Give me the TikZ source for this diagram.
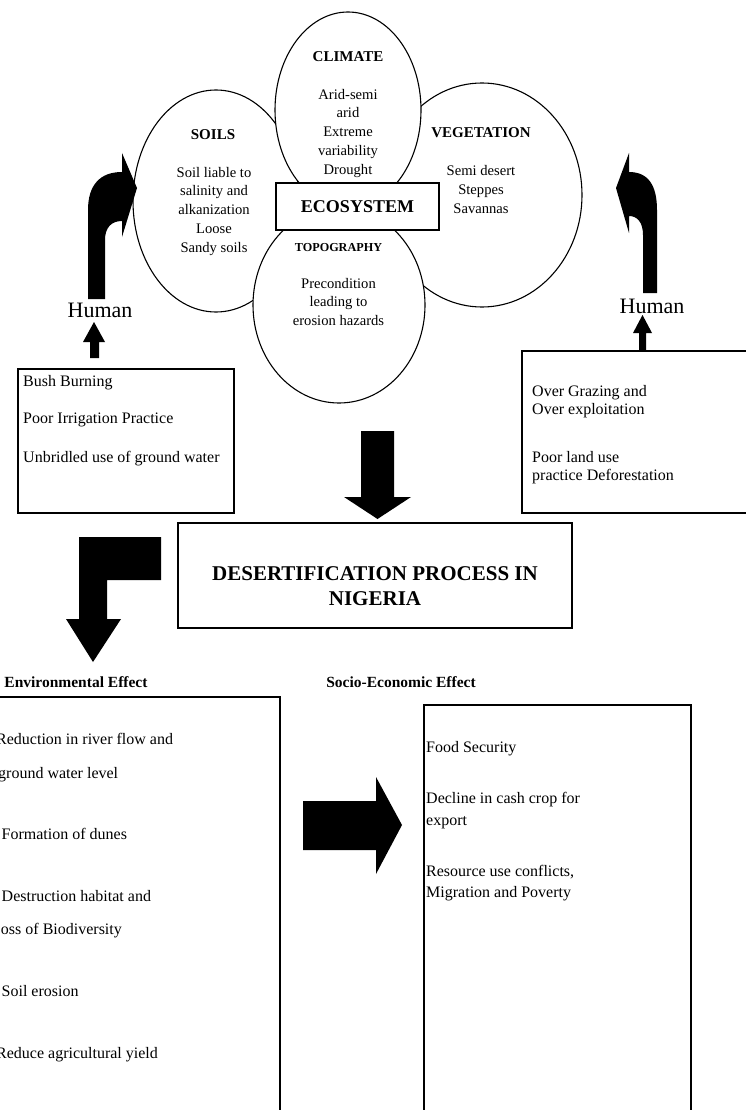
\documentclass[tikz,border=0pt]{standalone}
\usepackage{fontspec}
\setmainfont{Liberation Serif}
\usetikzlibrary{shapes.geometric}
\newcommand\ovaltxtfont{\fontsize{14.6}{18}\selectfont}
\newcommand\ovalheadfont{\fontsize{15}{18}\selectfont\bfseries}
\newcommand\topoheadfont{\fontsize{12.2}{14}\selectfont\bfseries}
\newcommand\ecoheadfont{\fontsize{18}{21}\selectfont\bfseries}
\newcommand\listfont{\fontsize{16}{19}\selectfont}
\newcommand\procfont{\fontsize{21}{25}\selectfont\bfseries}
\newcommand\effectheadfont{\fontsize{15.5}{18}\selectfont\bfseries}
\newcommand\humanlblfont{\fontsize{22}{26}\selectfont}

\begin{document}
\begin{tikzpicture}[x=1pt,y=-1pt,
  oval/.style={ellipse,draw,fill=white,line width=1.1pt,inner sep=0pt},
  frame/.style={rectangle,draw,line width=1.4pt,inner sep=0pt},
  ovaltxt/.style={anchor=base,inner sep=0pt,font=\ovaltxtfont},
  ovalhead/.style={anchor=base,inner sep=0pt,font=\ovalheadfont},
  listitem/.style={anchor=base west,inner sep=0pt,font=\listfont},
  bighead/.style={anchor=base,inner sep=0pt}]
\path[use as bounding box] (0,0) rectangle (746,1110);
\node[oval,minimum width=166,minimum height=222] (soils) at (216,201) {};
\node[oval,minimum width=200,minimum height=224] (vegetation) at (482,195) {};
\node[oval,minimum width=172,minimum height=196] (topography) at (339,305) {};
\node[oval,minimum width=146,minimum height=196] (climate) at (348,110) {};
\node[frame,fill=white,minimum width=163,minimum height=47,font=\ecoheadfont] (ecosystem) at (357.5,206.5) {ECOSYSTEM};
\node[ovalhead] (climateHd) at (348,62) {CLIMATE};
\node[ovaltxt] (climateA) at (348,99.5) {Arid-semi};
\node[ovaltxt] (climateB) at (348,118) {arid};
\node[ovaltxt] (climateC) at (348,137) {Extreme};
\node[ovaltxt] (climateD) at (348,156) {variability};
\node[ovaltxt] (climateE) at (348,175) {Drought};
\node[ovalhead] (soilsHd) at (213,140) {SOILS};
\node[ovaltxt] (soilsA) at (214,177.5) {Soil liable to};
\node[ovaltxt] (soilsB) at (214,196) {salinity and};
\node[ovaltxt] (soilsC) at (214,214.5) {alkanization};
\node[ovaltxt] (soilsD) at (214,233.5) {Loose};
\node[ovaltxt] (soilsE) at (214,252.5) {Sandy soils};
\node[ovalhead] (vegHd) at (481,138) {VEGETATION};
\node[ovaltxt] (vegA) at (481,175.5) {Semi desert};
\node[ovaltxt] (vegB) at (481,194) {Steppes};
\node[ovaltxt] (vegC) at (481,213) {Savannas};
\node[bighead,font=\topoheadfont] (topoHd) at (338.5,251.5) {TOPOGRAPHY};
\node[ovaltxt] (topoA) at (338.5,288) {Precondition};
\node[ovaltxt] (topoB) at (338.5,306.5) {leading to};
\node[ovaltxt] (topoC) at (338.5,325) {erosion hazards};
\fill (88,299) -- (88,210) .. controls (88,185) and (100,172) .. (122,172) -- (122,153) -- (137,188) -- (122,237) -- (122,221) .. controls (111,221) and (105,228) .. (105,240) -- (105,299) -- cycle;
\fill (657,293) -- (657,210) .. controls (657,185) and (648,172) .. (629,172) -- (629,153) -- (616,188) -- (629,233) -- (629,216) .. controls (637,216) and (643,222) .. (643,235) -- (643,293) -- cycle;
\node[bighead,font=\humanlblfont] (humanL) at (100,317) {Human};
\node[bighead,font=\humanlblfont] (humanR) at (652,313) {Human};
\fill (90,358) -- (90,342) -- (83,342) -- (94,322) -- (105,342) -- (99,342) -- (99,358) -- cycle;
\fill (639,351) -- (639,333) -- (633,333) -- (642.5,315) -- (652,333) -- (646,333) -- (646,351) -- cycle;
\node[frame,minimum width=216,minimum height=144] (humanBox) at (126,441) {};
\node[listitem] (bush) at (23,386) {Bush Burning};
\node[listitem] (irrig) at (23,423) {Poor Irrigation Practice};
\node[listitem] (water) at (23,462) {Unbridled use of ground water};
\node[frame,minimum width=228,minimum height=162] (landBox) at (636,432) {};
\node[listitem] (grazeA) at (532,396) {Over Grazing and};
\node[listitem] (grazeB) at (532,414) {Over exploitation};
\node[listitem] (landA) at (532,462) {Poor land use};
\node[listitem] (landB) at (532,480) {practice Deforestation};
\fill (361,431) -- (394,431) -- (394,497) -- (411,497) -- (377.5,519) -- (344,497) -- (361,497) -- cycle;
\node[frame,minimum width=394,minimum height=105] (process) at (375,575.5) {};
\node[bighead,font=\procfont] (processA) at (375,580) {DESERTIFICATION PROCESS IN};
\node[bighead,font=\procfont] (processB) at (375,605) {NIGERIA};
\fill (161,537) -- (79,537) -- (79,619) -- (66,619) -- (93,662) -- (121,619) -- (107,619) -- (107,580) -- (161,580) -- cycle;
\node[bighead,font=\effectheadfont] (envHd) at (76,687) {Environmental Effect};
\node[bighead,font=\effectheadfont] (socHd) at (401,687) {Socio-Economic Effect};
\node[frame,minimum width=285,minimum height=423] (envBox) at (137.5,908.5) {};
\node[listitem] (envA) at (-4,744) {Reduction in river flow and};
\node[listitem] (envB) at (-2,778) {ground water level};
\node[listitem] (envC) at (1.5,839) {Formation of dunes};
\node[listitem] (envD) at (1.5,901) {Destruction habitat and};
\node[listitem] (envE) at (-9,934) {Loss of Biodiversity};
\node[listitem] (envF) at (1.5,996) {Soil erosion};
\node[listitem] (envG) at (-4,1058) {Reduce agricultural yield};
\fill (303,801) -- (376,801) -- (376,777) -- (402,825) -- (376,874) -- (376,850) -- (303,850) -- cycle;
\node[frame,minimum width=267,minimum height=415] (socBox) at (557.5,912.5) {};
\node[listitem] (socA) at (426,752) {Food Security};
\node[listitem] (socB) at (426,803) {Decline in cash crop for};
\node[listitem] (socC) at (426,825) {export};
\node[listitem] (socD) at (426,876) {Resource use conflicts,};
\node[listitem] (socE) at (426,897) {Migration and Poverty};
\end{tikzpicture}
\end{document}
